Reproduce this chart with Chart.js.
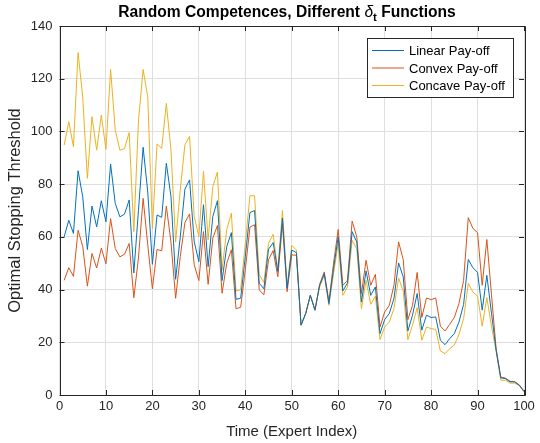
<!DOCTYPE html>
<html>
<head>
<meta charset="utf-8">
<script src="https://cdn.jsdelivr.net/npm/chart.js@4.4.0/dist/chart.umd.min.js"></script>
<style>
    html, body { margin: 0; padding: 0; background: #fff; }
    #wrap { width: 540px; height: 443px; position: relative; }
</style>
</head>
<body>
<div id="wrap"><canvas id="chart"></canvas></div>
<script>
// expert index (x) 1..100
const expertIndex = [
    1, 2, 3, 4, 5, 6, 7, 8, 9, 10, 11, 12, 13, 14, 15, 16, 17, 18, 19, 20,
    21, 22, 23, 24, 25, 26, 27, 28, 29, 30, 31, 32, 33, 34, 35, 36, 37, 38, 39, 40,
    41, 42, 43, 44, 45, 46, 47, 48, 49, 50, 51, 52, 53, 54, 55, 56, 57, 58, 59, 60,
    61, 62, 63, 64, 65, 66, 67, 68, 69, 70, 71, 72, 73, 74, 75, 76, 77, 78, 79, 80,
    81, 82, 83, 84, 85, 86, 87, 88, 89, 90, 91, 92, 93, 94, 95, 96, 97, 98, 99, 100
];

const linearPayoff = [
    60, 66.3, 61.3, 85.1, 75.2, 55.2, 71.7, 63.8, 73.7, 65.7,
    87.6, 72.7, 67.6, 68.6, 74, 46.3, 70, 94, 77, 49.6,
    68.3, 67.4, 87.9, 75.3, 43.9, 60, 78.1, 81.6, 58.2, 50.6,
    72.2, 48.7, 67.7, 73.7, 43.4, 56.3, 61.6, 36.3, 36.7, 52.5,
    69.2, 70, 42.4, 40.3, 55.3, 57.8, 46.8, 67.1, 40.5, 55,
    54, 26.5, 30.9, 37.8, 32.2, 41.6, 46, 34.7, 48, 60,
    39.5, 42.5, 62, 58, 35.3, 47.1, 37.8, 41, 23.3, 28.6,
    30.9, 36.6, 50.1, 44.8, 24.3, 30.3, 38.5, 24.6, 30.3, 29.4,
    29.6, 20.8, 19.1, 21.4, 23.3, 27.7, 34.4, 51.4, 48.3, 46.5,
    32.2, 45.4, 31, 17, 6.5, 6.2, 5, 5, 3.7, 1.4
];

const convexPayoff = [
    43.5, 48.3, 45, 62.5, 56.4, 41.3, 53.7, 48.2, 55.7, 49.8,
    66.9, 55.6, 52.4, 53.4, 57.5, 36.9, 52, 74.6, 57, 40.3,
    55.2, 54.7, 71.7, 58, 36.7, 52.5, 65.4, 68.7, 49.4, 43.4,
    62, 42, 59.5, 64.3, 38.6, 50, 55.1, 32.7, 33.3, 47.5,
    63.7, 64.6, 39.9, 38, 51.3, 54.8, 44.9, 65, 39.2, 53.2,
    53, 26.5, 30.9, 37.8, 32.2, 42, 46.7, 35.5, 50, 62.8,
    41.6, 43.5, 66, 60, 38.5, 51.1, 41.6, 45.8, 25.8, 31.5,
    34, 41.6, 58.1, 51.4, 28.6, 34, 46.5, 29.4, 36.8, 36.2,
    36.8, 26.1, 24.3, 26.8, 29.4, 34.7, 43.5, 67.3, 63.2, 61.6,
    41.6, 59, 38, 17.5, 6.8, 6.4, 5.2, 5, 3.8, 1.4
];

const concavePayoff = [
    94.8, 103.7, 94.2, 129.9, 113, 82.2, 105.6, 92.9, 106.2, 93.2,
    123.5, 100.5, 92.9, 93.5, 99.6, 62, 104, 123.5, 113, 63.2,
    95.3, 93.5, 110.6, 93, 58, 78, 94.9, 98.1, 67.7, 60.1,
    84.8, 58.9, 79.1, 84.6, 47.5, 62.7, 69, 39.5, 39.9, 57.5,
    75.6, 75.6, 45.6, 42.7, 57.6, 61, 47.5, 70, 41.1, 56.8,
    55, 26.5, 30.9, 37.8, 32.2, 41, 45.4, 34, 46, 57.5,
    37.8, 41, 58.7, 55.5, 32.8, 43.5, 34.4, 37.5, 21, 25.8,
    27.7, 32.8, 44.4, 39.4, 21, 26.5, 33.2, 20.8, 25.8, 25.2,
    24.9, 16.7, 15.7, 17.6, 18.9, 23, 29, 42.3, 39.1, 37.5,
    26.1, 37, 26, 16.5, 5.6, 5.6, 4.5, 4.5, 3.5, 1.2
];

const seriesNames = ["Linear Pay-off", "Convex Pay-off", "Concave Pay-off"];
const seriesColors = ["#0072BD", "#D95319", "#EDB120"];
const xTicks = [0, 10, 20, 30, 40, 50, 60, 70, 80, 90, 100];
const yTicks = [0, 20, 40, 60, 80, 100, 120, 140];

const AXIS_COLOR = "#262626";
const FONT = "'Liberation Sans', Arial, Helvetica, sans-serif";

function toPoints(values) {
    return values.map((v, i) => ({ x: expertIndex[i], y: v }));
}

// box, inward ticks, legend and title drawn the matlab way
const matlabLook = {
    id: "matlabLook",
    afterDatasetsDraw(chart) {
        const ctx = chart.ctx;
        const a = chart.chartArea;
        const xs = chart.scales.x;
        const ys = chart.scales.y;
        const tl = 5;

        ctx.save();
        ctx.strokeStyle = AXIS_COLOR;
        ctx.lineWidth = 1;
        ctx.beginPath();
        ctx.rect(Math.round(a.left) + 0.5, Math.round(a.top) + 0.5,
                 Math.round(a.right - a.left), Math.round(a.bottom - a.top));
        xTicks.forEach(t => {
            const px = Math.round(xs.getPixelForValue(t)) + 0.5;
            ctx.moveTo(px, a.bottom); ctx.lineTo(px, a.bottom - tl);
            ctx.moveTo(px, a.top); ctx.lineTo(px, a.top + tl);
        });
        yTicks.forEach(t => {
            const py = Math.round(ys.getPixelForValue(t)) + 0.5;
            ctx.moveTo(a.left, py); ctx.lineTo(a.left + tl, py);
            ctx.moveTo(a.right, py); ctx.lineTo(a.right - tl, py);
        });
        ctx.stroke();

        // legend
        const lx = 367, ly = 38, lw = 146, lh = 59;
        ctx.fillStyle = "#fff";
        ctx.fillRect(lx, ly, lw, lh);
        ctx.strokeStyle = AXIS_COLOR;
        ctx.strokeRect(lx + 0.5, ly + 0.5, lw, lh);
        ctx.font = "13px " + FONT;
        ctx.textBaseline = "middle";
        chart.data.datasets.forEach((ds, i) => {
            const ry = ly + 12.5 + i * 17.5;
            ctx.strokeStyle = ds.borderColor;
            ctx.beginPath();
            ctx.moveTo(lx + 5, ry);
            ctx.lineTo(lx + 37, ry);
            ctx.stroke();
            ctx.fillStyle = "#000";
            ctx.fillText(ds.label, lx + 42, ry + 1);
        });

        // title with delta subscript t
        const parts = [
            { text: "Random Competences, Different ", font: "bold 15.6px " + FONT, dy: 0 },
            { text: "\u03B4", font: "italic 15.6px " + FONT, dy: 0 },
            { text: "t", font: "bold 11.5px " + FONT, dy: 4 },
            { text: " Functions", font: "bold 15.6px " + FONT, dy: 0 }
        ];
        let total = 0;
        parts.forEach(p => { ctx.font = p.font; p.w = ctx.measureText(p.text).width; total += p.w; });
        let cx = 287 - total / 2;
        ctx.fillStyle = "#000";
        ctx.textBaseline = "alphabetic";
        parts.forEach(p => {
            ctx.font = p.font;
            ctx.fillText(p.text, cx, 17 + p.dy);
            cx += p.w;
        });
        ctx.restore();
    }
};

const ctx = document.getElementById("chart").getContext("2d");
const chart = new Chart(ctx, {
    type: "line",
    data: {
        datasets: [
            { label: seriesNames[0], data: toPoints(linearPayoff), borderColor: seriesColors[0] },
            { label: seriesNames[1], data: toPoints(convexPayoff), borderColor: seriesColors[1] },
            { label: seriesNames[2], data: toPoints(concavePayoff), borderColor: seriesColors[2] }
        ]
    },
    options: {
        responsive: true,
        maintainAspectRatio: false,
        animation: false,
        layout: { padding: { top: 26, right: 16, bottom: 0, left: 0 } },
        elements: {
            line: { borderWidth: 1, tension: 0, fill: false },
            point: { radius: 0 }
        },
        plugins: {
            legend: { display: false },
            title: { display: false },
            tooltip: { enabled: false }
        },
        scales: {
            x: {
                type: "linear",
                min: 0,
                max: 100,
                afterFit(s) { s.height = 48; },
                afterBuildTicks(s) { s.ticks = xTicks.map(v => ({ value: v })); },
                ticks: { color: AXIS_COLOR, font: { family: FONT, size: 13 }, padding: 4, maxRotation: 0 },
                grid: { color: "#dfdfdf", lineWidth: 1, drawTicks: false },
                border: { display: false },
                title: {
                    display: true,
                    text: "Time (Expert Index)",
                    color: AXIS_COLOR,
                    font: { family: FONT, size: 15 },
                    padding: { top: 0, bottom: 2 }
                }
            },
            y: {
                min: 0,
                max: 140,
                afterFit(s) { s.width = 59.5; },
                afterBuildTicks(s) { s.ticks = yTicks.map(v => ({ value: v })); },
                ticks: { color: AXIS_COLOR, font: { family: FONT, size: 13 }, padding: 7 },
                grid: { color: "#dfdfdf", lineWidth: 1, drawTicks: false },
                border: { display: false },
                title: {
                    display: true,
                    text: "Optimal Stopping Threshold",
                    color: AXIS_COLOR,
                    font: { family: FONT, size: 16.5 },
                    padding: { top: 6, bottom: 0 }
                }
            }
        }
    },
    plugins: [matlabLook]
});
</script>
</body>
</html>
